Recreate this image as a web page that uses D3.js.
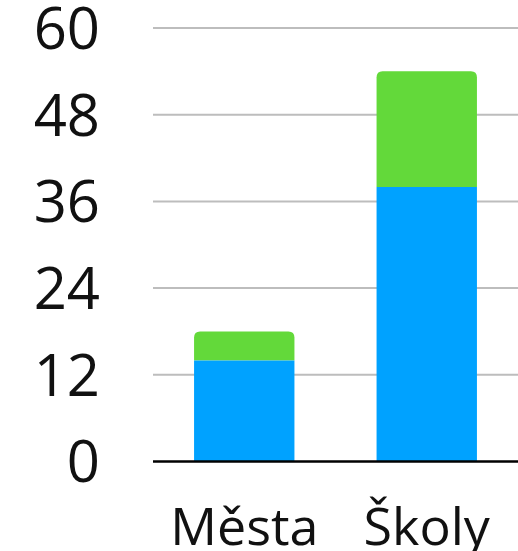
<!DOCTYPE html>
<html>
<head>
<meta charset="utf-8">
<script src="https://cdn.jsdelivr.net/npm/d3@7"></script>
<style>
  body { margin: 0; background: #fff; }
  svg text { font-family: "Open Sans", "Noto Sans", sans-serif; fill: #111; }
</style>
</head>
<body>
<div id="chart"></div>
<script>
// DATA
const categories = ["Města", "Školy"];
const seriesBlue = [14, 38];
const seriesGreen = [4, 16];
const yTicks = [0, 12, 24, 36, 48, 60];

// DIMENSIONS
const WIDTH = 518;
const HEIGHT = 551;
const LEFT = 153;
const TOP = 28;
const BOTTOM = 461.5;
const RADIUS = 6;

const svg = d3.select("#chart").append("svg")
  .attr("width", WIDTH)
  .attr("height", HEIGHT);

const x = d3.scaleBand()
  .domain(categories)
  .range([LEFT, WIDTH])
  .paddingInner(0.45)
  .paddingOuter(0.225);

const y = d3.scaleLinear()
  .domain([0, 60])
  .range([BOTTOM, TOP]);

// gridlines
svg.append("g")
  .selectAll("line")
  .data(yTicks.filter(d => d > 0))
  .join("line")
  .attr("x1", LEFT)
  .attr("x2", WIDTH)
  .attr("y1", d => y(d))
  .attr("y2", d => y(d))
  .attr("stroke", "#bdbdbd")
  .attr("stroke-width", 2);

// y tick labels
svg.append("g")
  .selectAll("text")
  .data(yTicks)
  .join("text")
  .attr("x", 100)
  .attr("y", d => y(d))
  .attr("dy", "0.36em")
  .attr("text-anchor", "end")
  .style("font-size", "58px")
  .text(d => d);

// stacked bars
const rows = categories.map((c, i) => ({ cat: c, blue: seriesBlue[i], green: seriesGreen[i] }));

const roundTop = (x0, y0, w, h, r) =>
  `M${x0},${y0 + h}V${y0 + r}Q${x0},${y0} ${x0 + r},${y0}H${x0 + w - r}Q${x0 + w},${y0} ${x0 + w},${y0 + r}V${y0 + h}Z`;

const bars = svg.append("g");

bars.selectAll("rect.blue")
  .data(rows)
  .join("rect")
  .attr("class", "blue")
  .attr("x", d => x(d.cat))
  .attr("width", x.bandwidth())
  .attr("y", d => y(d.blue))
  .attr("height", d => y(0) - y(d.blue))
  .attr("fill", "#00a2ff");

bars.selectAll("path.green")
  .data(rows)
  .join("path")
  .attr("class", "green")
  .attr("d", d => roundTop(x(d.cat), y(d.blue + d.green), x.bandwidth(), y(d.blue) - y(d.blue + d.green), RADIUS))
  .attr("fill", "#63d93a");

// baseline
svg.append("line")
  .attr("x1", LEFT)
  .attr("x2", WIDTH)
  .attr("y1", y(0))
  .attr("y2", y(0))
  .attr("stroke", "#000")
  .attr("stroke-width", 2.5);

// x labels
svg.append("g")
  .selectAll("text")
  .data(categories)
  .join("text")
  .attr("x", d => x(d) + x.bandwidth() / 2)
  .attr("y", 545)
  .attr("text-anchor", "middle")
  .style("font-size", "52px")
  .text(d => d);
</script>
</body>
</html>
